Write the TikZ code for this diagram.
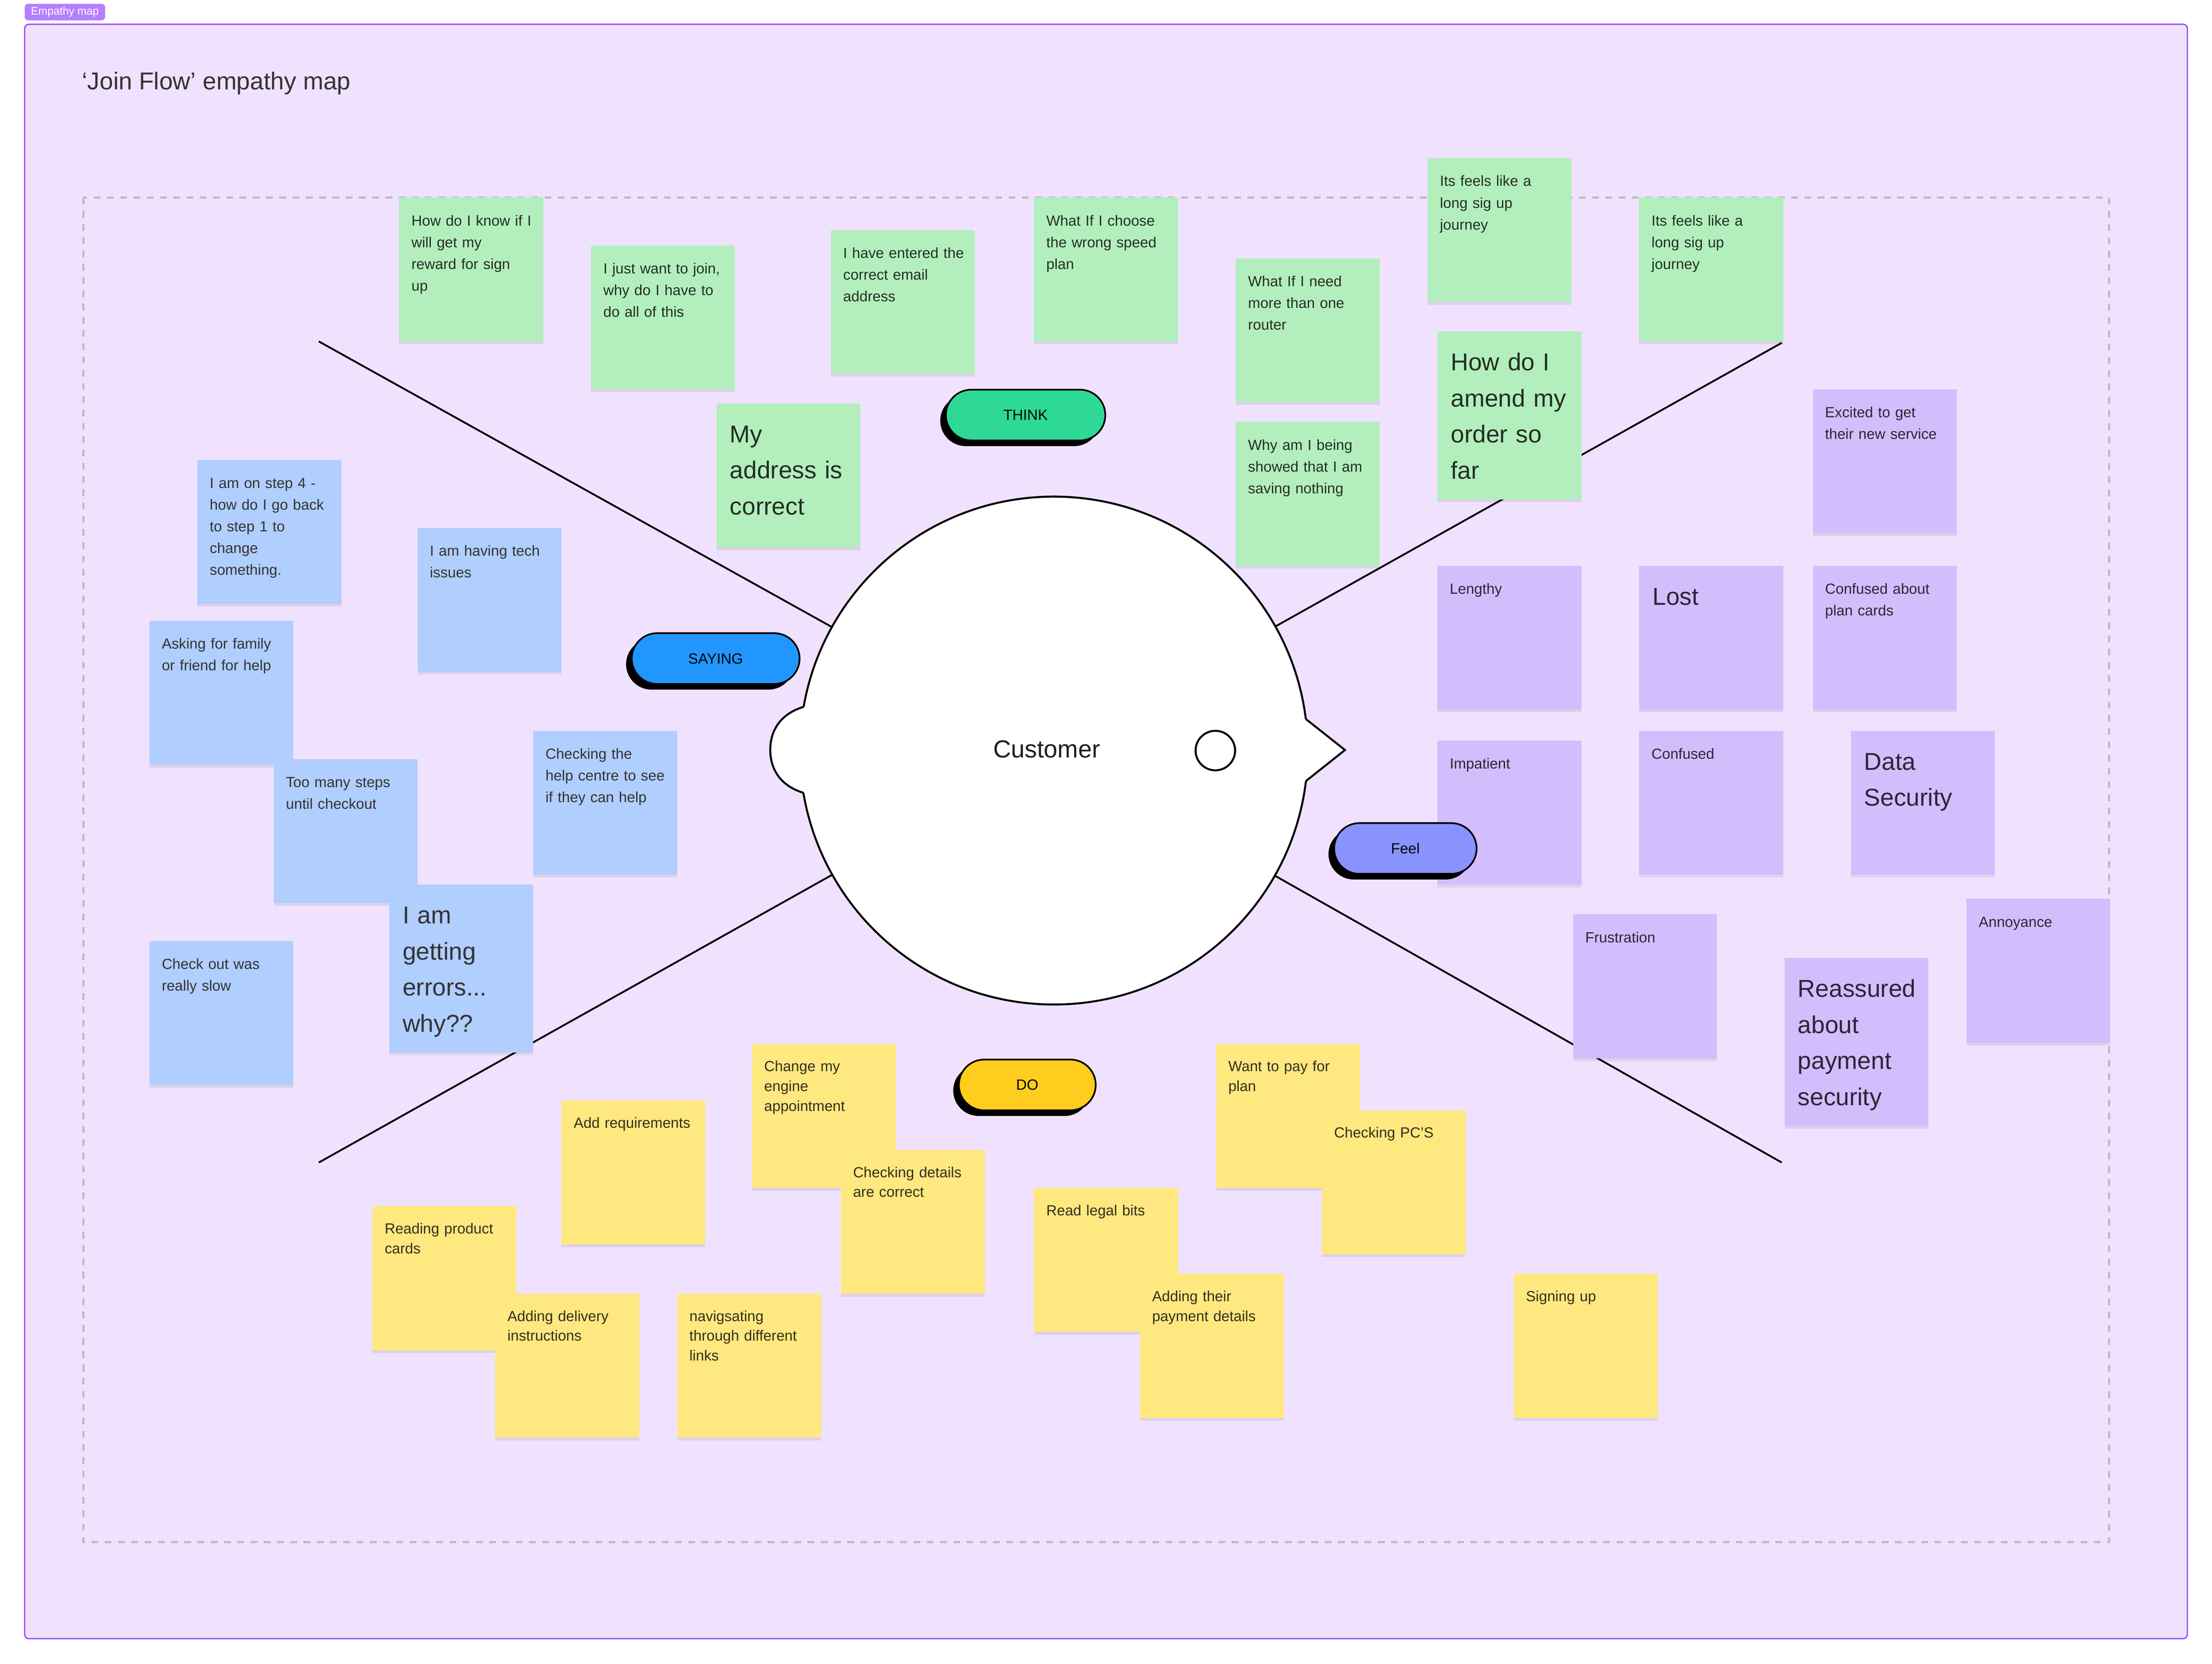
\documentclass[tikz,border=0pt]{standalone}
\usepackage{fontspec}
\setmainfont{Liberation Sans}
\usetikzlibrary{shapes.misc,shadows}
\definecolor{bgp}{RGB}{240,226,255}
\definecolor{framec}{RGB}{151,71,255}
\definecolor{tagc}{RGB}{180,126,255}
\definecolor{dashc}{RGB}{190,188,194}
\definecolor{gstk}{RGB}{179,239,189}
\definecolor{bstk}{RGB}{176,206,254}
\definecolor{pstk}{RGB}{211,189,252}
\definecolor{ystk}{RGB}{255,232,128}
\definecolor{gstktxt}{RGB}{36,46,36}
\definecolor{bstktxt}{RGB}{51,51,51}
\definecolor{pstktxt}{RGB}{42,38,54}
\definecolor{ystktxt}{RGB}{51,46,30}
\definecolor{thinkc}{RGB}{46,217,150}
\definecolor{sayc}{RGB}{34,150,255}
\definecolor{feelc}{RGB}{136,147,254}
\definecolor{doc}{RGB}{255,205,30}
\definecolor{titlec}{RGB}{51,51,51}
\tikzset{
  stickybox/.style={anchor=north west, minimum width=102pt, inner sep=0pt, outer sep=0pt,
    drop shadow={shadow xshift=0pt, shadow yshift=-2pt, opacity=0.08, fill=black}},
  stxt/.style={anchor=base west, xshift=8.5pt, yshift=-20pt, inner sep=0pt, text width=95pt, align=left,
    font=\fontsize{10.4}{15.4}\selectfont},
  ytxt/.style={anchor=base west, xshift=8.5pt, yshift=-19.5pt, inner sep=0pt, text width=95pt, align=left,
    font=\fontsize{10.4}{14}\selectfont},
  btxt/.style={anchor=base west, xshift=9.2pt, yshift=-27.7pt, inner sep=0pt, text width=95pt, align=left,
    font=\fontsize{17.3}{25.6}\selectfont},
  pill/.style={rounded rectangle, draw=black, line width=1.2pt, minimum height=36pt, inner sep=0pt,
    font=\fontsize{10.5}{12}\selectfont, text=black,
    general shadow={fill=black, shadow xshift=-4pt, shadow yshift=-4pt}},
  spoke/.style={draw=black, line width=1.3pt},
  headline/.style={draw=black, line width=1.4pt},
}
\newcommand{\mysticky}[7]{%
  \node[stickybox, fill=#5, minimum height=#4pt] (#1) at (#2,#3) {};
  \node[#6, text=#5txt] (#1t) at (#1.north west) {#7};
}
\begin{document}
\begin{tikzpicture}[x=1pt,y=-1pt]
\fill[white] (0,0) rectangle (1568,1179.4);
\useasboundingbox (0,0) rectangle (1568,1179.4);
% tag and frame
\node[rectangle, rounded corners=2.5pt, fill=tagc, minimum width=57pt, minimum height=11.7pt, inner sep=0pt,
  text=white, font=\fontsize{7.8}{9}\selectfont] (tag) at (46,8.55) {Empathy map};
\draw[framec, fill=bgp, line width=0.9pt, rounded corners=3pt] (17.5,17.2) rectangle (1550.5,1161.5);
\draw[dashc, line width=1.5pt, dash pattern=on 4.8pt off 4.6pt] (59,140) rectangle (1495,1093);
\node[anchor=base west, inner sep=0pt, text=titlec, font=\fontsize{17.3}{20}\selectfont] (title) at (58,63.6) {‘Join Flow’ empathy map};
% head
\node[circle, headline, fill=white, minimum size=360pt, inner sep=0pt] (head) at (747,532) {};
\fill[white] (569.7,501) .. controls (553,506) and (546,518) .. (546,531.5)
  .. controls (546,545) and (553,557) .. (569.7,562) -- (577,562) -- (577,501) -- cycle;
\draw[headline] (569.7,501) .. controls (553,506) and (546,518) .. (546,531.5)
  .. controls (546,545) and (553,557) .. (569.7,562);
\fill[white] (925.6,509.6) -- (953.4,531.6) -- (925.6,553.7) -- (917,553.7) -- (917,509.6) -- cycle;
\draw[headline, line join=miter] (925.6,509.6) -- (953.4,531.6) -- (925.6,553.7);
\node[circle, headline, minimum size=28pt, inner sep=0pt] (eye) at (861.5,532) {};
\node[inner sep=0pt, text=black!88, font=\fontsize{17.5}{20}\selectfont] (cust) at (742,531) {Customer};
% spokes
\coordinate (tl) at (226,242);
\coordinate (tr) at (1263,243);
\coordinate (bl) at (226,824);
\coordinate (br) at (1263,824);
\draw[spoke] (tl) -- (head);
\draw[spoke] (tr) -- (head);
\draw[spoke] (bl) -- (head);
\draw[spoke] (br) -- (head);
% THINK stickies
\mysticky{g1}{283}{140}{102}{gstk}{stxt}{How do I know if I\\will get my\\reward for sign\\up}
\mysticky{g2}{419}{174}{102}{gstk}{stxt}{I just want to join,\\why do I have to\\do all of this}
\mysticky{g3}{589}{163}{102}{gstk}{stxt}{I have entered the\\correct email\\address}
\mysticky{g4}{733}{140}{102}{gstk}{stxt}{What If I choose\\the wrong speed\\plan}
\mysticky{g5}{876}{183}{102}{gstk}{stxt}{What If I need\\more than one\\router}
\mysticky{g6}{876}{299}{102}{gstk}{stxt}{Why am I being\\showed that I am\\saving nothing}
\mysticky{g7}{1012}{112}{102}{gstk}{stxt}{Its feels like a\\long sig up\\journey}
\mysticky{g8}{1162}{140}{102}{gstk}{stxt}{Its feels like a\\long sig up\\journey}
\mysticky{g9}{1019}{235}{119}{gstk}{btxt}{How do I\\amend my\\order so\\far}
\mysticky{g10}{508}{286}{102}{gstk}{btxt}{My\\address is\\correct}
% SAYING stickies
\mysticky{b1}{140}{326}{102}{bstk}{stxt}{I am on step 4 -\\how do I go back\\to step 1 to\\change\\something.}
\mysticky{b2}{296}{374}{102}{bstk}{stxt}{I am having tech\\issues}
\mysticky{b3}{106}{440}{102}{bstk}{stxt}{Asking for family\\or friend for help}
\mysticky{b4}{194}{538}{102}{bstk}{stxt}{Too many steps\\until checkout}
\mysticky{b5}{378}{518}{102}{bstk}{stxt}{Checking the\\help centre to see\\if they can help}
\mysticky{b6}{276}{627}{119}{bstk}{btxt}{I am\\getting\\errors...\\why??}
\mysticky{b7}{106}{667}{102}{bstk}{stxt}{Check out was\\really slow}
% FEEL stickies
\mysticky{p1}{1285}{276}{102}{pstk}{stxt}{Excited to get\\their new service}
\mysticky{p2}{1019}{401}{102}{pstk}{stxt}{Lengthy}
\mysticky{p3}{1162}{401}{102}{pstk}{btxt}{Lost}
\mysticky{p4}{1285}{401}{102}{pstk}{stxt}{Confused about\\plan cards}
\mysticky{p5}{1019}{525}{102}{pstk}{stxt}{Impatient}
\mysticky{p6}{1162}{518}{102}{pstk}{stxt}{Confused}
\mysticky{p7}{1312}{518}{102}{pstk}{btxt}{Data\\Security}
\mysticky{p8}{1115}{648}{102}{pstk}{stxt}{Frustration}
\mysticky{p9}{1265}{679}{119}{pstk}{btxt}{Reassured\\about\\payment\\security}
\mysticky{p10}{1394}{637}{102}{pstk}{stxt}{Annoyance}
% DO stickies
\mysticky{y1}{533}{740}{102}{ystk}{ytxt}{Change my\\engine\\appointment}
\mysticky{y2}{398}{780}{102}{ystk}{ytxt}{Add requirements}
\mysticky{y3}{596}{815}{102}{ystk}{ytxt}{Checking details\\are correct}
\mysticky{y4}{264}{855}{102}{ystk}{ytxt}{Reading product\\cards}
\mysticky{y5}{351}{917}{102}{ystk}{ytxt}{Adding delivery\\instructions}
\mysticky{y6}{480}{917}{102}{ystk}{ytxt}{navigsating\\through different\\links}
\mysticky{y7}{733}{842}{102}{ystk}{ytxt}{Read legal bits}
\mysticky{y8}{808}{903}{102}{ystk}{ytxt}{Adding their\\payment details}
\mysticky{y9}{862}{740}{102}{ystk}{ytxt}{Want to pay for\\plan}
\mysticky{y10}{937}{787}{102}{ystk}{ytxt}{Checking PC'S}
\mysticky{y11}{1073}{903}{102}{ystk}{ytxt}{Signing up}
% pills
\node[pill, fill=thinkc, minimum width=113pt] (think) at (727,294.2) {THINK};
\node[pill, fill=sayc, minimum width=119pt] (saying) at (507.3,466.8) {SAYING};
\node[pill, fill=feelc, minimum width=101pt] (feel) at (996.2,601.4) {Feel};
\node[pill, fill=doc, minimum width=97pt] (do) at (728.2,769) {DO};
\end{tikzpicture}
\end{document}
